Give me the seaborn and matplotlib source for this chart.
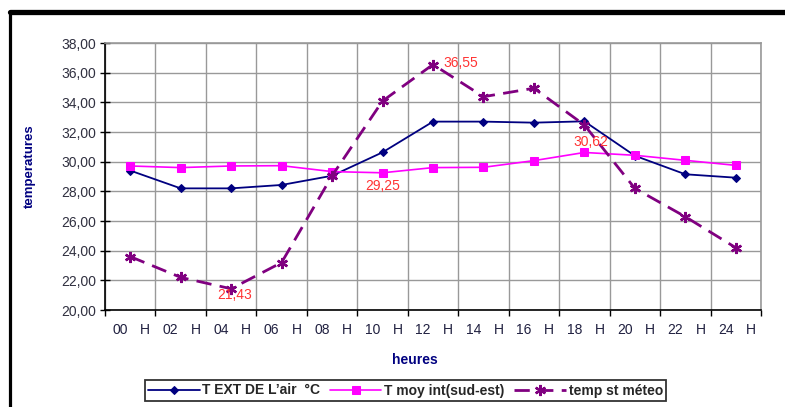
import numpy as np
import pandas as pd
import matplotlib
matplotlib.use('Agg')
import matplotlib.pyplot as plt
import seaborn as sns
from matplotlib.lines import Line2D
from matplotlib.ticker import FuncFormatter

# data
heures = ['00', '02', '04', '06', '08', '10', '12', '14', '16', '18', '20', '22', '24']
t_ext = [29.40, 28.20, 28.20, 28.43, 29.05, 30.63, 32.70, 32.70, 32.63, 32.72, 30.40, 29.15, 28.92]
t_moy = [29.71, 29.60, 29.71, 29.73, 29.33, 29.25, 29.60, 29.62, 30.07, 30.62, 30.43, 30.09, 29.75]
t_meteo = [23.60, 22.20, 21.43, 23.20, 29.05, 34.09, 36.55, 34.38, 34.95, 32.47, 28.20, 26.29, 24.20]
noms = ["T EXT DE L\u2019air  \u00b0C", "T moy int(sud-est)", "temp st m\u00e9teo"]

# annotated points : (series, index, offset in pixels, ha)
annot = [(t_meteo, 6, (10, 2), 'left'),
         (t_moy, 5, (0, -13), 'center'),
         (t_moy, 9, (6, 10), 'center'),
         (t_meteo, 2, (3, -6), 'center')]

sns.set_style('white')
plt.rcParams['font.family'] = ['Liberation Sans', 'DejaVu Sans']

df = pd.DataFrame({'pos': np.arange(len(heures)), 'ext': t_ext, 'moy': t_moy, 'meteo': t_meteo})

fig = plt.figure(figsize=(7.85, 4.07), dpi=100)
ax = fig.add_axes([105/785, 1-310/407, 656/785, 267/407])

sns.lineplot(data=df, x='pos', y='ext', color='#000080', marker='D', markersize=4,
             markeredgecolor='#000080', linewidth=1.3, ax=ax, label=noms[0])
sns.lineplot(data=df, x='pos', y='moy', color='#FF00FF', marker='s', markersize=5.8,
             markeredgecolor='#FF00FF', linewidth=1.2, ax=ax, label=noms[1])
sns.lineplot(data=df, x='pos', y='meteo', color='#800080', marker=(6, 2, 0), markersize=8,
             markeredgecolor='#800080', markeredgewidth=1.7, linewidth=2,
             linestyle=(0, (5.5, 3)), ax=ax, label=noms[2])

ax.set_xlim(-0.5, len(heures)-0.5)
ax.set_ylim(20, 38)
ax.set_yticks(np.arange(20, 38.1, 2))
ax.yaxis.set_major_formatter(FuncFormatter(lambda v, p: ('%.2f' % v).replace('.', ',')))

# category labels "00  H" with tick marks between categories
pos = np.arange(len(heures))
ax.set_xticks(np.concatenate([pos-0.2, pos+0.3]))
ax.set_xticklabels(heures + ['H']*len(heures))
ax.set_xticks(np.arange(-0.5, len(heures), 1), minor=True)
ax.tick_params(axis='x', which='major', length=0, pad=9, labelsize=10, labelcolor='#202040')
ax.tick_params(axis='x', which='minor', direction='out', length=4, width=1, color='black', bottom=True)
ax.tick_params(axis='y', direction='inout', length=7, width=1, color='black', pad=3,
               labelsize=10, labelcolor='#303040', left=True)

ax.grid(False)
ax.grid(axis='x', which='minor', color='#999999', linewidth=1)
ax.grid(axis='y', which='major', color='#999999', linewidth=1)
for s in ['top', 'right']:
    ax.spines[s].set_color('#999999')
    ax.spines[s].set_linewidth(1.2)
for s in ['left', 'bottom']:
    ax.spines[s].set_color('black')
    ax.spines[s].set_linewidth(1.2)

ax.set_xlabel('heures', fontweight='bold', color='#000080', fontsize=10)
ax.set_ylabel('temperatures', fontweight='bold', color='#000080', fontsize=9.5)
ax.xaxis.set_label_coords((414.5-105)/656, (310-352.7)/267)
ax.yaxis.set_label_coords((36-105)/656, (310-166)/267)

for serie, i, off, ha in annot:
    ax.annotate(('%.2f' % serie[i]).replace('.', ','), (i, serie[i]), xytext=off,
                textcoords='offset pixels', ha=ha, va='center', color='#FF3333', fontsize=10)

h, l = ax.get_legend_handles_labels()
ax.get_legend().remove()
leg = fig.legend(h, l, loc='center', bbox_to_anchor=(405.5/785, 1-390.5/407), ncol=3,
                 frameon=True, fancybox=False, edgecolor='black', handlelength=3.7,
                 columnspacing=0.7, handletextpad=0.2, borderpad=0.25,
                 prop={'weight': 'bold', 'size': 10})
leg.get_frame().set_linewidth(1.3)

# thick frame of the original document (top and left edges only visible)
fig.add_artist(Line2D([10/785, 1], [1-12/407, 1-12/407], color='black', linewidth=3.8,
                      transform=fig.transFigure))
fig.add_artist(Line2D([10/785, 10/785], [0, 1-12/407], color='black', linewidth=2.3,
                      transform=fig.transFigure))

plt.savefig('out.png', dpi=100)
